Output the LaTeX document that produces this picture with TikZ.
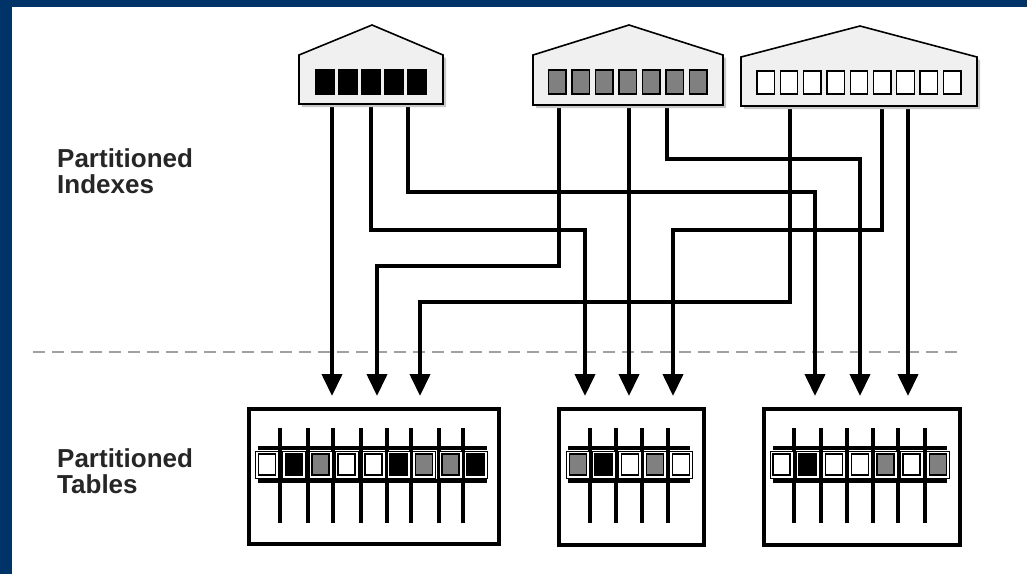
\documentclass[tikz,border=0pt]{standalone}
\usepackage{fontspec}
\setmainfont{Liberation Sans}
\usetikzlibrary{arrows.meta}
\definecolor{navy}{RGB}{0,52,104}
\definecolor{idxfill}{RGB}{240,240,240}
\definecolor{cellgray}{RGB}{128,128,128}
\definecolor{shadowgray}{RGB}{200,200,200}
\definecolor{dashgray}{RGB}{160,160,160}
\tikzset{
  conn/.style={line width=4pt, line join=miter, -{Triangle[length=22pt,width=20pt]}},
  idxshape/.style={draw=black, line width=1.6pt, fill=idxfill, line join=miter},
  idxbox/.style={draw=black, line width=1.3pt},
  tbl/.style={draw=black, line width=3.5pt, fill=white, inner sep=0pt},
  tblshadow/.style={fill=shadowgray},
  bar/.style={line width=4pt},
  lbl/.style={font=\bfseries\fontsize{26}{26}\selectfont, text=black!85, align=left, inner sep=0pt, anchor=north west},
  sep/.style={draw=dashgray, line width=2pt, dash pattern=on 12pt off 7pt},
}
\newcommand\indexshape[7]{% name, L, R, eave, apex x, apex y, bottom
  \fill[shadowgray] ([shift={(3,3)}]#2,#7) -- ([shift={(3,3)}]#2,#4) -- ([shift={(3,3)}]#5,#6) -- ([shift={(3,3)}]#3,#4) -- ([shift={(3,3)}]#3,#7) -- cycle;
  \draw[idxshape] (#2,#7) -- (#2,#4) -- (#5,#6) -- (#3,#4) -- (#3,#7) -- cycle;
  \coordinate (#1) at (#5,#6);
}
\newcommand\tablecells[1]{%
  \foreach \cx/\cc in {#1} {
    \draw[line width=1pt, fill=white] (\cx-11.5,451) rectangle (\cx+11.5,478);
    \draw[line width=1.5pt, fill=\cc] (\cx-8.5,454) rectangle (\cx+8.5,475);
  }
}
\begin{document}
\begin{tikzpicture}[x=1pt,y=-1pt]
\useasboundingbox (0,0) rectangle (1027,574);
\fill[white] (0,0) rectangle (1027,574);
\fill[navy] (0,0) rectangle (12,574);
\fill[navy] (0,0) rectangle (1027,7);

% labels
\node[lbl] (lidx) at (57,148) {Partitioned\\Indexes};
\node[lbl] (ltbl) at (57,448) {Partitioned\\Tables};

% separator
\coordinate (dl) at (33,352);
\coordinate (dr) at (958,352);
\draw[sep] (dl) -- (dr);

% connector endpoints
\coordinate (s11) at (332,100); \coordinate (s12) at (371,100); \coordinate (s13) at (408,100);
\coordinate (s21) at (559,100); \coordinate (s22) at (629,100); \coordinate (s23) at (667,100);
\coordinate (s31) at (790,100); \coordinate (s32) at (882,100); \coordinate (s33) at (908,100);
\coordinate (e11) at (332,396); \coordinate (e12) at (377,396); \coordinate (e13) at (420,396);
\coordinate (e21) at (585,396); \coordinate (e22) at (629,396); \coordinate (e23) at (673,396);
\coordinate (e31) at (815,396); \coordinate (e32) at (860,396); \coordinate (e33) at (908,396);

\draw[conn] (s11) -- (e11);
\draw[conn] (s12) -- (371,230) -- (585,230) -- (e21);
\draw[conn] (s13) -- (408,192) -- (815,192) -- (e31);
\draw[conn] (s21) -- (559,266) -- (377,266) -- (e12);
\draw[conn] (s22) -- (e22);
\draw[conn] (s23) -- (667,159) -- (860,159) -- (e32);
\draw[conn] (s31) -- (790,302) -- (420,302) -- (e13);
\draw[conn] (s32) -- (882,230) -- (673,230) -- (e23);
\draw[conn] (s33) -- (e33);

% index shapes
\indexshape{I1}{299}{443}{55}{372}{25}{104}
\indexshape{I2}{533}{723}{55}{629}{25}{105}
\indexshape{I3}{741}{977}{57}{860}{26}{106}
\foreach \k in {0,...,4} \draw[idxbox, fill=black] (316+\k*23,70) rectangle (334.5+\k*23,94);
\foreach \k in {0,...,6} \draw[idxbox, fill=cellgray] (548.5+\k*23.5,70) rectangle (566+\k*23.5,94);
\foreach \k in {0,...,8} \draw[idxbox, fill=white] (757+\k*23.3,71) rectangle (774.5+\k*23.3,94);

% tables
\fill[tblshadow] (250,410) rectangle (500,545);
\fill[tblshadow] (560,410) rectangle (705,546);
\fill[tblshadow] (765,410) rectangle (961,546);
\node[tbl, minimum width=250pt, minimum height=135pt, anchor=north west] (T1) at (247,407) {};
\node[tbl, minimum width=145pt, minimum height=136pt, anchor=north west] (T2) at (557,407) {};
\node[tbl, minimum width=196pt, minimum height=136pt, anchor=north west] (T3) at (762,407) {};

\foreach \vx in {280,308,333,361,387,411,439,463} \draw[bar] (\vx,428) -- (\vx,523);
\foreach \vx in {590,616,642,668} \draw[bar] (\vx,428) -- (\vx,523);
\foreach \vx in {794,821,847,873,898,925} \draw[bar] (\vx,428) -- (\vx,523);
\draw[bar] (258,448) -- (487,448); \draw[bar] (258,481) -- (487,481);
\draw[bar] (568,448) -- (690,448); \draw[bar] (568,481) -- (690,481);
\draw[bar] (773,448) -- (947,448); \draw[bar] (773,481) -- (947,481);

\tablecells{267/white,294/black,320.5/cellgray,346.5/white,373.5/white,398.5/black,424/cellgray,450.5/cellgray,475.5/black}
\tablecells{578/cellgray,603.5/black,630/white,655/cellgray,681/white}
\tablecells{781.5/white,807.5/black,834/white,860/white,885.5/cellgray,911.5/white,938/cellgray}
\end{tikzpicture}
\end{document}
